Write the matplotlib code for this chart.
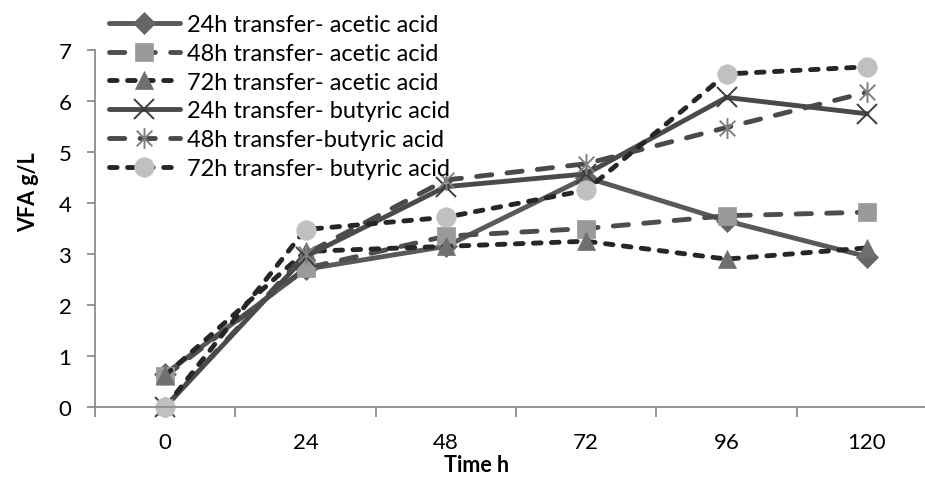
import matplotlib
matplotlib.use("Agg")
import matplotlib.pyplot as plt
from matplotlib.path import Path

plt.rcParams['font.family'] = ['Lato', 'DejaVu Sans']
plt.rcParams['lines.scale_dashes'] = False

# Sampling times (h) and VFA concentrations (g/L)
times = ["0", "24", "48", "72", "96", "120"]
series_labels = [
    "24h transfer- acetic acid",
    "48h transfer- acetic acid",
    "72h transfer- acetic acid",
    "24h transfer- butyric acid",
    "48h transfer-butyric acid",
    "72h transfer- butyric acid",
]
acetic_24h = [0.65, 2.70, 3.15, 4.50, 3.65, 2.95]
acetic_48h = [0.60, 2.72, 3.35, 3.50, 3.75, 3.82]
acetic_72h = [0.62, 3.05, 3.15, 3.25, 2.90, 3.12]
butyric_24h = [0.00, 2.95, 4.32, 4.57, 6.07, 5.75]
butyric_48h = [0.00, 3.00, 4.45, 4.77, 5.48, 6.17]
butyric_72h = [0.00, 3.48, 3.72, 4.25, 6.53, 6.67]

values = [acetic_24h, acetic_48h, acetic_72h, butyric_24h, butyric_48h, butyric_72h]

# Asterisk marker: vertical stroke plus an X
star_path = Path(
    [(0, -1), (0, 1), (-0.75, -0.75), (0.75, 0.75), (-0.75, 0.75), (0.75, -0.75)],
    [Path.MOVETO, Path.LINETO, Path.MOVETO, Path.LINETO, Path.MOVETO, Path.LINETO],
)

long_dash = (0, (11, 11))
short_dash = (0, (5.5, 7.5))

styles = [
    dict(color="#595959", linestyle="-", marker="D", ms=11, mfc="#666666", mec="#666666", mew=0.5),
    dict(color="#4d4d4d", linestyle=long_dash, marker="s", ms=13, mfc="#9a9a9a", mec="#9a9a9a", mew=0.5),
    dict(color="#262626", linestyle=short_dash, marker="^", ms=13, mfc="#6f6f6f", mec="#6f6f6f", mew=0.5),
    dict(color="#4a4a4a", linestyle="-", marker="x", ms=14, mfc="#3c3c3c", mec="#3c3c3c", mew=1.4),
    dict(color="#4a4a4a", linestyle=long_dash, marker=star_path, ms=15, mfc="none", mec="#808080", mew=1.4),
    dict(color="#262626", linestyle=short_dash, marker="o", ms=14, mfc="#c0c0c0", mec="#c0c0c0", mew=0.5),
]

fig = plt.figure(figsize=(9.25, 4.81), dpi=100)
ax = fig.add_axes([95 / 925, 1 - 408 / 481, (937 - 95) / 925, 357 / 481])

x = list(range(len(times)))
for vals, lab, st in zip(values, series_labels, styles):
    ax.plot(x, vals, label=lab, lw=3.5, dash_capstyle="round", solid_capstyle="round",
            solid_joinstyle="round", clip_on=False, **st)

ax.set_xlim(-0.5, len(times) - 0.5)
ax.set_ylim(0, 7)
ax.set_yticks(range(0, 8))
ax.set_xticks(x)
ax.set_xticklabels(times)
ax.set_xticks([i + 0.5 for i in range(-1, len(times))], minor=True)

for side in ("top", "right"):
    ax.spines[side].set_visible(False)
for side in ("left", "bottom"):
    ax.spines[side].set_color("#8c8c8c")
    ax.spines[side].set_linewidth(1.3)

ax.tick_params(axis="y", which="major", length=6, width=1.3, color="#8c8c8c",
               labelsize=16, pad=11)
ax.tick_params(axis="x", which="major", length=0, labelsize=16, pad=18)
ax.tick_params(axis="x", which="minor", length=7, width=1.3, color="#8c8c8c")

ax.set_ylabel("VFA g/L", fontsize=15.5, fontweight="bold", va="center")
ax.yaxis.set_label_coords((29 - 95) / 842, (408 - 192) / 357)
ax.set_xlabel("Time h", fontsize=15.5, fontweight="bold", va="center")
ax.xaxis.set_label_coords((477 - 95) / 842, (408 - 466) / 357)

fig.legend(loc="upper left", bbox_to_anchor=(109 / 925, 1 - 15 / 481), frameon=False,
           fontsize=17, handlelength=3.0, handletextpad=0.3, labelspacing=0.33,
           borderpad=0, borderaxespad=0)

fig.savefig("out.png", dpi=100)
